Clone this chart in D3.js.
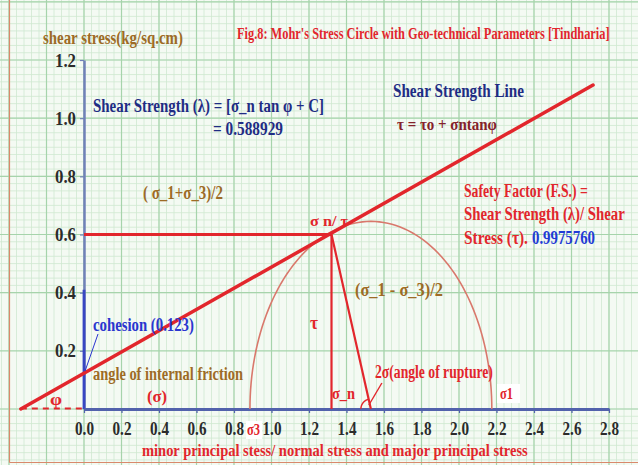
<!DOCTYPE html>
<html>
<head>
<meta charset="utf-8">
<script src="https://cdn.jsdelivr.net/npm/d3@7/dist/d3.min.js"></script>
<style>
  html, body { margin: 0; padding: 0; background: #ffffff; }
  svg { display: block; }
  text { font-family: "Liberation Serif", "Times New Roman", serif; font-weight: bold; }
</style>
</head>
<body>
<svg id="chart" width="638" height="465"></svg>
<script>
// Normal stress (sigma) and shear stress (tau) axis ticks, kg/sq.cm
const sigmaTicks = [0.0, 0.2, 0.4, 0.6, 0.8, 1.0, 1.2, 1.4, 1.6, 1.8, 2.0, 2.2, 2.4, 2.6, 2.8];
const tauTicks = [0.2, 0.4, 0.6, 0.8, 1.0, 1.2];

// Geo-technical parameters
const cohesion = 0.123;           // C, intercept of the strength envelope
const tanPhi = 0.365;             // slope of the shear strength line
const envelopeEnd = 2.715;        // sigma where the drawn envelope stops
const principal = [0.885, 2.175]; // [sigma3, sigma1]
const sigmaN = 1.32;              // normal stress on the failure plane
const tauN = 0.60;                // shear stress on the failure plane
const shearStrength = 0.588929;
const safetyFactor = 0.9975760;

const svg = d3.select("#chart");
const W = 638, H = 465;

const x = d3.scaleLinear().domain([0, 2.8]).range([84, 609]);
const y = d3.scaleLinear().domain([0, 1.2]).range([409, 60]);

// ---- graph-paper background ----
const paper = svg.append("g");
paper.append("rect").attr("width", W).attr("height", H).attr("fill", "#f4faf3");
const majX = x(0.2) - x(0), majY = y(0) - y(0.2);
const minorXs = d3.range(x(0) - 12 * majX, W + 1, majX / 5);
const minorYs = d3.range(y(0) - 2 * majY, -majY, -majY / 8).concat(d3.range(y(0), H + 1, majY / 8));
paper.selectAll(".vminor").data(minorXs).join("line")
  .attr("x1", d => d).attr("x2", d => d).attr("y1", 0).attr("y2", H)
  .attr("stroke", "#cfe9d1").attr("stroke-width", 0.8);
paper.selectAll(".hminor").data(minorYs).join("line")
  .attr("y1", d => d).attr("y2", d => d).attr("x1", 0).attr("x2", W)
  .attr("stroke", "#cfe9d1").attr("stroke-width", 0.8);
const majorXs = d3.range(x(0) - 12 * majX, W + 1, majX);
const majorYs = d3.range(y(0) + majY, -majY, -majY);
paper.selectAll(".vmajor").data(majorXs).join("line")
  .attr("x1", d => d).attr("x2", d => d).attr("y1", 0).attr("y2", H)
  .attr("stroke", "#a6d4ab").attr("stroke-width", 1.2);
paper.selectAll(".hmajor").data(majorYs).join("line")
  .attr("y1", d => d).attr("y2", d => d).attr("x1", 0).attr("x2", W)
  .attr("stroke", "#a6d4ab").attr("stroke-width", 1.2);
// frame
paper.append("line").attr("x1", 9.5).attr("x2", 9.5).attr("y1", 0).attr("y2", 462.5)
  .attr("stroke", "#d9896c").attr("stroke-width", 1.2);
paper.append("line").attr("x1", 9.5).attr("x2", W).attr("y1", 462.5).attr("y2", 462.5)
  .attr("stroke", "#d9896c").attr("stroke-width", 1.2);

// ---- text helper: condensed bold serif, squeezed horizontally to a width ----
function label(str, px, py, w, size, color) {
  const t = svg.append("text")
    .attr("font-size", size).attr("fill", color).text(str);
  const nat = t.node().getComputedTextLength();
  t.attr("transform", `translate(${px},${py}) scale(${(w / nat).toFixed(4)},1)`);
  return t;
}
// squeeze axis tick labels around their anchor
function squeezeTicks(sel, w) {
  sel.each(function () {
    const t = d3.select(this);
    const nat = this.getComputedTextLength();
    const tx = +t.attr("x") || 0;
    t.attr("x", 0).attr("transform", `translate(${tx},0) scale(${(w / nat).toFixed(4)},1)`);
  });
}

const RED = "#e2262c", BROWN = "#9d6b26", NAVY = "#1f2c84", BLUE = "#2a36cf";

// ---- axes ----
const yAxis = svg.append("g").attr("transform", `translate(${x(0)},0)`)
  .call(d3.axisLeft(y).tickValues(tauTicks).tickFormat(d3.format(".1f")).tickSize(4).tickSizeOuter(0).tickPadding(4));
yAxis.select(".domain").attr("stroke", "#7081b8").attr("stroke-width", 2.5);
yAxis.selectAll(".tick line").attr("stroke", "#7081b8").attr("stroke-width", 1.2);
yAxis.selectAll(".tick text").attr("font-size", 19).attr("fill", "#2b2b2b")
  .attr("font-family", "Liberation Serif").attr("font-weight", "bold");
squeezeTicks(yAxis.selectAll(".tick text"), 21);
// brighter lower part of the shear axis
svg.append("line").attr("x1", x(0)).attr("x2", x(0)).attr("y1", y(0.41)).attr("y2", y(0))
  .attr("stroke", "#3846c2").attr("stroke-width", 2.8);

const xAxis = svg.append("g").attr("transform", `translate(0,${y(0)})`)
  .call(d3.axisBottom(x).tickValues(sigmaTicks).tickFormat(d3.format(".1f")).tickSize(4).tickSizeOuter(0).tickPadding(9));
xAxis.select(".domain").attr("stroke", "#5262ac").attr("stroke-width", 3.2);
xAxis.selectAll(".tick line").attr("stroke", "#5262ac").attr("stroke-width", 1.2);
xAxis.selectAll(".tick text").attr("font-size", 18).attr("fill", "#2b2b2b")
  .attr("font-family", "Liberation Serif").attr("font-weight", "bold");
squeezeTicks(xAxis.selectAll(".tick text"), 19);

// ---- Mohr circle (upper half) ----
const centre = (principal[0] + principal[1]) / 2;
const radius = (principal[1] - principal[0]) / 2;
const arcPts = d3.range(0, 181, 2).map(a => {
  const t = a * Math.PI / 180;
  return [centre + radius * Math.cos(t), radius * Math.sin(t)];
});
svg.append("path").datum(arcPts)
  .attr("d", d3.line().x(d => x(d[0])).y(d => y(d[1])))
  .attr("fill", "none").attr("stroke", "#d9786c").attr("stroke-width", 1.6);

// ---- stresses on the failure plane ----
svg.append("line").attr("x1", x(0)).attr("x2", x(sigmaN)).attr("y1", y(tauN)).attr("y2", y(tauN))
  .attr("stroke", RED).attr("stroke-width", 3.2);
svg.append("line").attr("x1", x(sigmaN)).attr("x2", x(sigmaN)).attr("y1", y(tauN)).attr("y2", y(0))
  .attr("stroke", RED).attr("stroke-width", 2.2);
svg.append("line").attr("x1", x(sigmaN)).attr("x2", x(centre)).attr("y1", y(tauN)).attr("y2", y(0))
  .attr("stroke", RED).attr("stroke-width", 2.2);

// angle of rupture arc at the circle centre
const cx = x(centre), cy = y(0);
const dirAng = Math.atan2(y(tauN) - cy, x(sigmaN) - cx);
const ruptureArc = d3.range(0, 1.0001, 0.1).map(f => {
  const a = Math.PI + (dirAng + 2 * Math.PI - Math.PI) * f;
  return [cx + 10 * Math.cos(a), cy + 10 * Math.sin(a)];
});
svg.append("path").datum(ruptureArc).attr("d", d3.line())
  .attr("fill", "none").attr("stroke", RED).attr("stroke-width", 1.4);
svg.append("line").attr("x1", cx - 2).attr("y1", cy - 4).attr("x2", cx + 11).attr("y2", cy - 26)
  .attr("stroke", RED).attr("stroke-width", 1.4);

// ---- shear strength envelope ----
const envStart = -cohesion / tanPhi;
svg.append("line")
  .attr("x1", x(envStart)).attr("x2", x(0)).attr("y1", y(0) - 0.5).attr("y2", y(0) - 0.5)
  .attr("stroke", RED).attr("stroke-width", 2).attr("stroke-dasharray", "6,5");
svg.append("line")
  .attr("x1", x(envStart)).attr("y1", y(0))
  .attr("x2", x(envelopeEnd)).attr("y2", y(cohesion + tanPhi * envelopeEnd))
  .attr("stroke", RED).attr("stroke-width", 3.5).attr("stroke-linecap", "round");

// cohesion leader
svg.append("line").attr("x1", x(0) + 14).attr("y1", 334).attr("x2", x(0) + 1).attr("y2", y(cohesion) - 2)
  .attr("stroke", BLUE).attr("stroke-width", 1);

// ---- labels ----
label("shear stress(kg/sq.cm)", 43, 44, 140, 18, BROWN);
label("Fig.8: Mohr's Stress Circle with Geo-technical Parameters [Tindharia]", 237, 39, 373, 16, RED);
label("Shear Strength  Line", 393, 97, 131, 19, NAVY);
label("τ = τo + σntanφ", 397, 130, 100, 17, "#84222a");
label("Shear Strength (λ) = [σ_n tan φ + C]", 93, 112, 231, 19, NAVY);
label("= " + shearStrength.toFixed(6), 213, 135, 70, 19, NAVY);
label("( σ_1+σ_3)/2", 143, 199, 80, 18, BROWN);
label("Safety Factor (F.S.) =", 464, 197, 124, 19, RED);
label("Shear Strength (λ)/ Shear", 464, 220, 161, 19, RED);
label("Stress (τ).", 464, 244, 64, 19, RED);
label(safetyFactor.toFixed(7), 532, 244, 63, 19, "#1f3bd6");
label("σ n/ τ", 310, 226, 38, 15, RED);
label("(σ_1 - σ_3)/2", 355, 296, 88, 18, BROWN);
label("τ", 310, 329, 8, 18, RED);
label("cohesion (0.123)", 93, 331, 101, 18, BLUE);
label("angle of internal friction", 93, 380, 150, 18, BROWN);
label("(σ)", 147, 402, 20, 17, RED);
label("φ", 50, 405, 12, 17, RED);
label("σ_n", 332, 399, 23, 16, RED);
label("2σ(angle of rupture)", 375, 378, 118, 18, RED);

svg.append("rect").attr("x", 497).attr("y", 384).attr("width", 23).attr("height", 19).attr("fill", "#ffffff");
label("σ1", 500, 399, 13, 17, RED);
svg.append("rect").attr("x", 246).attr("y", 421).attr("width", 16).attr("height", 18).attr("fill", "#ffffff");
label("σ3", 247, 435, 13, 17, RED);

label("minor principal stess/ normal stress and major principal stress", 142, 456, 386, 16, RED);
</script>
</body>
</html>
